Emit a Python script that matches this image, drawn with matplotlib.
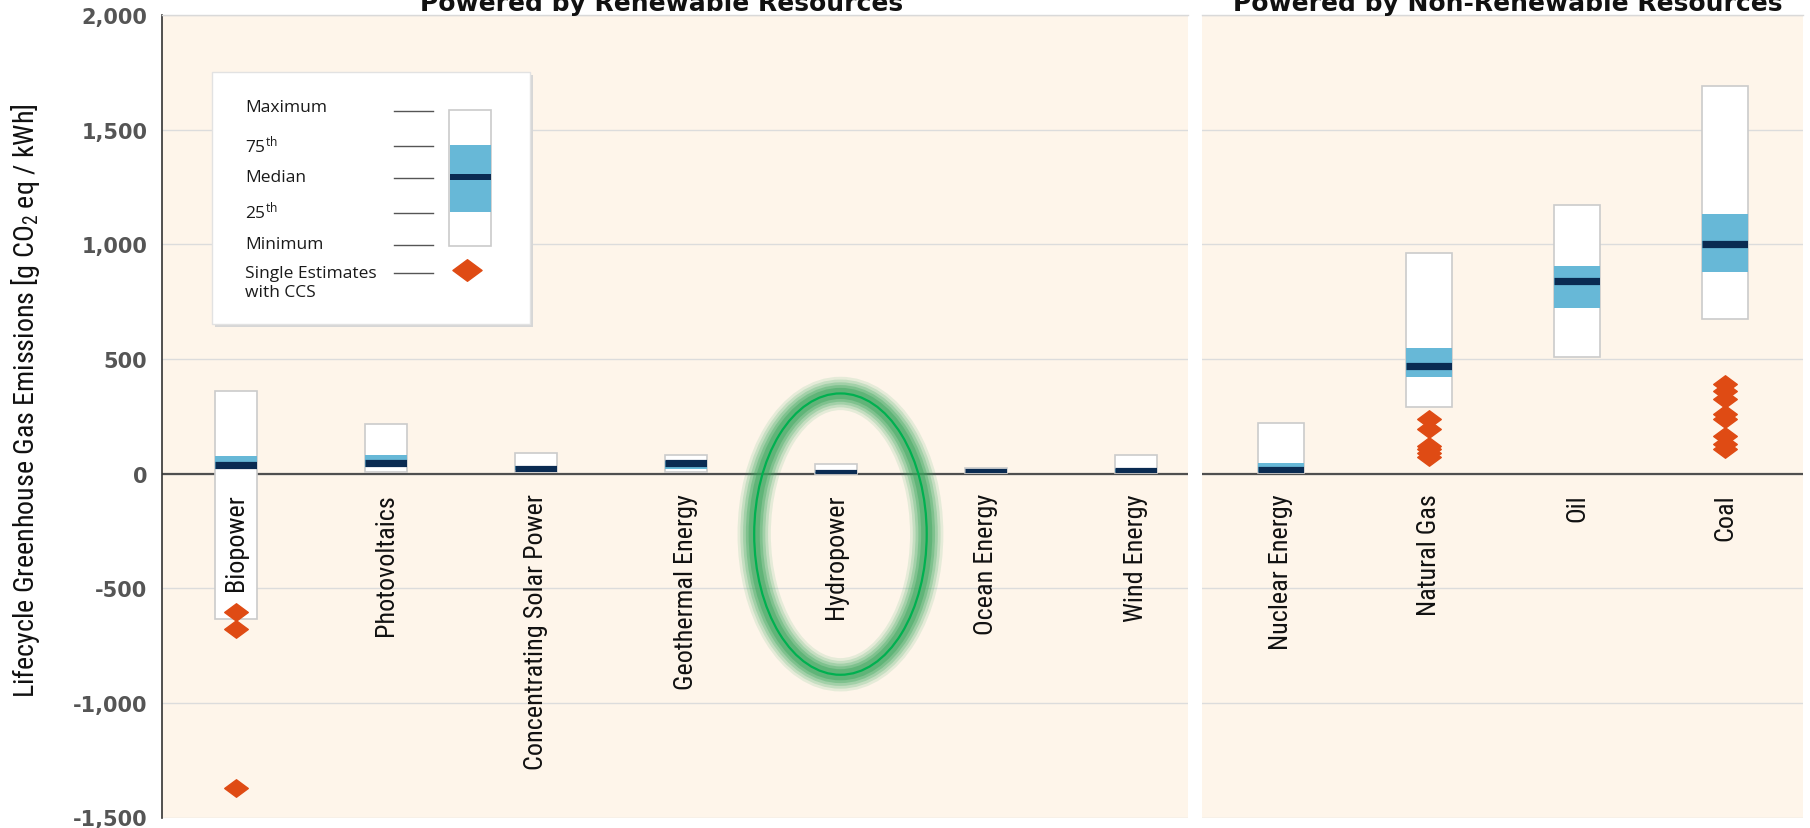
import matplotlib
matplotlib.use('Agg')
import matplotlib.pyplot as plt
from matplotlib import font_manager
from matplotlib.patches import Rectangle, Ellipse
from matplotlib.path import Path

# ---------------- data ----------------
renew_cats = ['Biopower', 'Photovoltaics', 'Concentrating Solar Power',
              'Geothermal Energy', 'Hydropower', 'Ocean Energy', 'Wind Energy']
renew_min = [-633, 5, 7, 6, 0, 2, 2]
renew_p25 = [18, 29, 14, 20, 3, 6, 8]
renew_med = [37, 46, 22, 45, 4, 8, 12]
renew_p75 = [75, 80, 32, 57, 7, 9, 20]
renew_max = [360, 217, 89, 82, 43, 23, 81]

nonrenew_cats = ['Nuclear Energy', 'Natural Gas', 'Oil', 'Coal']
nonrenew_min = [1, 290, 510, 675]
nonrenew_p25 = [8, 422, 722, 877]
nonrenew_med = [16, 469, 840, 1001]
nonrenew_p75 = [45, 548, 907, 1130]
nonrenew_max = [220, 960, 1170, 1689]

ccs_biopower = [-602, -677, -1373]
ccs_natural_gas = [237, 196, 120, 105, 90, 72]
ccs_coal = [389, 360, 327, 258, 237, 164, 128, 106]

y_ticks = [-1500, -1000, -500, 0, 500, 1000, 1500, 2000]
legend_labels = ['Maximum', '75$^{th}$', 'Median', '25$^{th}$', 'Minimum']

# ---------------- style ----------------
W, H = 1810, 829
BG = '#FEF5EA'
BLUE = '#67B8D7'
NAVY = '#0A2B52'
ORANGE = '#DF4B14'
EDGE = '#CBCBCB'

plt.rcParams['mathtext.default'] = 'regular'


def find_narrow():
    keys = ['LiberationSansNarrow-Regular', 'RobotoCondensed-Regular',
            'NotoSans-Condensed.', 'DejaVuSansCondensed.', 'OpenSans-CondensedRegular',
            'OpenSans_Condensed-Regular', 'Narrow', 'Condensed']
    files = [f.fname for f in font_manager.fontManager.ttflist]
    bad = ('Bold', 'Italic', 'Light', 'Medium', 'Thin', 'Black', 'Semi', 'Extra')
    for k in keys:
        for fn in files:
            base = fn.split('/')[-1]
            if k in base and not any(b in base for b in bad):
                return fn
    return None


narrow_file = find_narrow()
if narrow_file:
    cat_font = font_manager.FontProperties(fname=narrow_file, size=18.8)
    ylab_font = font_manager.FontProperties(fname=narrow_file, size=20.2)
else:
    cat_font = font_manager.FontProperties(family='DejaVu Sans', size=12.5)
    ylab_font = font_manager.FontProperties(family='DejaVu Sans', size=13.5)

fig = plt.figure(figsize=(W / 100, H / 100), dpi=100)
fig.patch.set_facecolor('white')


def fx(x):
    return x / W


def fy(y):
    return 1 - y / H


ax_bottom = fy(818.5)
ax_height = fy(16) - fy(818.5)
axL = fig.add_axes([fx(162), ax_bottom, fx(1188) - fx(162), ax_height])
axR = fig.add_axes([fx(1202), ax_bottom, fx(1803) - fx(1202), ax_height])

for ax in (axL, axR):
    ax.set_facecolor(BG)
    ax.set_ylim(-1500, 2000)
    ax.set_yticks(y_ticks)
    ax.yaxis.grid(True, color='#DCDCDC', lw=1.0)
    ax.set_axisbelow(True)
    ax.set_xticks([])
    ax.axhline(0, color='#4F4F4F', lw=1.6, zorder=1.5)
    for s in ('right', 'bottom'):
        ax.spines[s].set_visible(False)
    ax.spines['top'].set_color('#D9D9D9')
    ax.spines['top'].set_linewidth(1.0)
    ax.tick_params(axis='y', length=0)

axL.set_xlim(-0.493, 6.347)
axR.set_xlim(-0.534, 3.527)
axL.spines['left'].set_color('#333333')
axL.spines['left'].set_linewidth(1.2)
axR.spines['left'].set_visible(False)
axL.set_yticklabels([f'{v:,}' for v in y_ticks], fontsize=15, fontweight='bold',
                    color='#555555')
axL.tick_params(axis='y', pad=10.5)
axR.set_yticklabels([])

diamond = Path([(-1, 0), (0, 0.74), (1, 0), (0, -0.74), (-1, 0)],
               [Path.MOVETO, Path.LINETO, Path.LINETO, Path.LINETO, Path.CLOSEPOLY])


def draw_boxes(ax, cats, mins, p25, med, p75, maxs, width):
    for i, name in enumerate(cats):
        box = Rectangle((i - width / 2, mins[i]), width, maxs[i] - mins[i],
                        facecolor='white', edgecolor=EDGE, lw=1.2, zorder=3)
        ax.add_patch(box)
        ax.add_patch(Rectangle((i - width / 2, p25[i]), width, p75[i] - p25[i],
                               facecolor=BLUE, edgecolor='none', zorder=3.1))
        ln, = ax.plot([i - width / 2, i + width / 2], [med[i], med[i]], color=NAVY,
                      lw=5.2, solid_capstyle='butt', zorder=3.2)
        ln.set_clip_path(box)
        ax.text(i, -85, name, rotation=90, ha='center', va='top',
                fontproperties=cat_font, color='#111111', zorder=5)


draw_boxes(axL, renew_cats, renew_min, renew_p25, renew_med, renew_p75, renew_max, 0.28)
draw_boxes(axR, nonrenew_cats, nonrenew_min, nonrenew_p25, nonrenew_med, nonrenew_p75,
           nonrenew_max, 0.31)

axL.plot([renew_cats.index('Biopower')] * len(ccs_biopower), ccs_biopower,
         linestyle='none', marker=diamond, ms=17, color=ORANGE, zorder=4)
axR.plot([nonrenew_cats.index('Natural Gas')] * len(ccs_natural_gas), ccs_natural_gas,
         linestyle='none', marker=diamond, ms=17, color=ORANGE, zorder=4)
axR.plot([nonrenew_cats.index('Coal')] * len(ccs_coal), ccs_coal,
         linestyle='none', marker=diamond, ms=17, color=ORANGE, zorder=4)

# highlight ellipse around Hydropower
hx = renew_cats.index('Hydropower') + 0.03
for lw, a in [(24, 0.12), (20, 0.18), (16, 0.24), (12, 0.32), (8, 0.42)]:
    axL.add_patch(Ellipse((hx, -264), 1.15, 1227, fill=False, edgecolor='#36A45A',
                          lw=lw, alpha=a, zorder=2.5))
axL.add_patch(Ellipse((hx, -264), 1.15, 1227, fill=False, edgecolor='#00B050',
                      lw=1.6, zorder=2.6))

# titles (partly cut at top of figure, as in the source image)
fig.text(fx(662), fy(11), 'Powered by Renewable Resources', ha='center', va='baseline',
         fontsize=18, fontweight='bold', color='#111111')
fig.text(fx(1508), fy(11), 'Powered by Non-Renewable Resources', ha='center',
         va='baseline', fontsize=18, fontweight='bold', color='#111111')

# y label
fig.text(fx(26), fy(401), 'Lifecycle Greenhouse Gas Emissions [g CO$_2$ eq / kWh]',
         rotation=90, ha='center', va='center', fontproperties=ylab_font, color='#111111')

# ---------------- legend panel ----------------
tf = fig.transFigure
fig.add_artist(Rectangle((fx(214.5), fy(327.5)), fx(530) - fx(212), fy(73) - fy(325),
                         transform=tf, facecolor='#D6D6D6', edgecolor='none', zorder=1))
fig.add_artist(Rectangle((fx(212), fy(325)), fx(530) - fx(212), fy(73) - fy(325),
                         transform=tf, facecolor='white', edgecolor='#E2E2E2', lw=1,
                         zorder=1.1))
leg_font = dict(family=['Open Sans', 'DejaVu Sans'], fontsize=12.5, color='#1A1A1A')
text_y = [107.7, 145, 177.7, 211.7, 245]
line_y = [111.7, 146.7, 179, 213.7, 246]
for lab, ty, ly in zip(legend_labels, text_y, line_y):
    fig.text(fx(245), fy(ty), lab, ha='left', va='center', zorder=3, **leg_font)
    fig.add_artist(plt.Line2D([fx(394), fx(433)], [fy(ly), fy(ly)], transform=tf,
                              color='#555555', lw=1.0, zorder=2))
fig.text(fx(245), fy(274.3), 'Single Estimates', ha='left', va='center', zorder=3, **leg_font)
fig.text(fx(245), fy(293.3), 'with CCS', ha='left', va='center', zorder=3, **leg_font)
fig.add_artist(plt.Line2D([fx(394), fx(433)], [fy(274.3), fy(274.3)], transform=tf,
                          color='#555555', lw=1.0, zorder=2))
fig.add_artist(Rectangle((fx(449), fy(246.7)), fx(491) - fx(449), fy(110.7) - fy(246.7),
                         transform=tf, facecolor='white', edgecolor=EDGE, lw=1.2, zorder=2))
fig.add_artist(Rectangle((fx(449.5), fy(213.3)), fx(490.5) - fx(449.5), fy(146) - fy(213.3),
                         transform=tf, facecolor=BLUE, edgecolor='none', zorder=2.1))
fig.add_artist(Rectangle((fx(449.5), fy(181)), fx(490.5) - fx(449.5), fy(175) - fy(181),
                         transform=tf, facecolor=NAVY, edgecolor='none', zorder=2.2))
fig.add_artist(plt.Line2D([fx(466.7)], [fy(271)], transform=tf, linestyle='none',
                          marker=diamond, ms=21, color=ORANGE, zorder=2.3))

fig.savefig('out.png', dpi=100, facecolor='white')
